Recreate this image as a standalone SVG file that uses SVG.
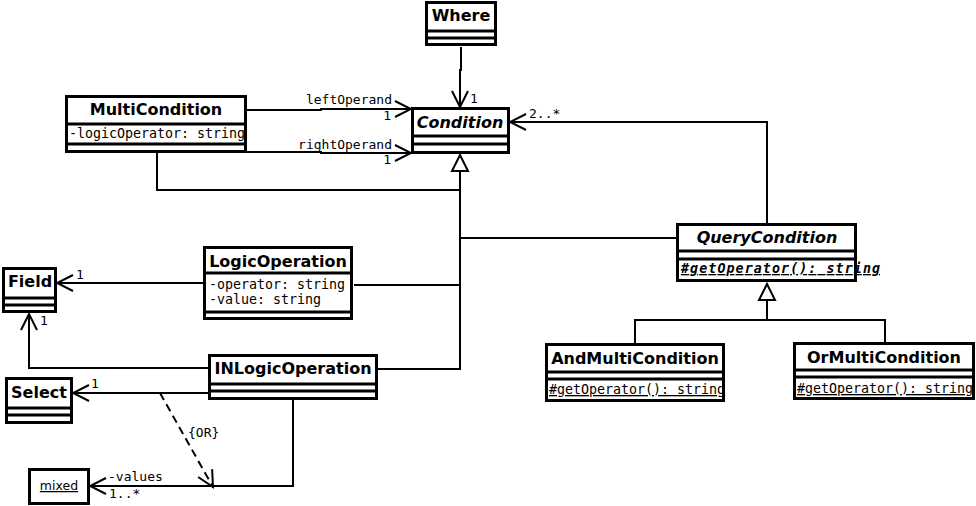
<svg xmlns="http://www.w3.org/2000/svg" width="976" height="506" viewBox="0 0 976 506">
<style>
.box{fill:#fff;stroke:#000;stroke-width:3}
.frame{fill:none;stroke:#000;stroke-width:3}
.sep{stroke:#000;stroke-width:3}
.conn{fill:none;stroke:#000;stroke-width:2}
.dash{fill:none;stroke:#000;stroke-width:2;stroke-dasharray:8,5}
.tri{fill:#fff;stroke:#000;stroke-width:2}
.name{font-family:"DejaVu Sans",sans-serif;font-weight:bold;font-size:16px;text-anchor:middle}
.abs{font-style:italic}
.attr{font-family:"DejaVu Sans Mono",monospace;font-size:13.3px}
.op{font-family:"DejaVu Sans Mono",monospace;font-size:13.3px;text-decoration:underline}
.lbl{font-family:"DejaVu Sans Mono",monospace;font-size:13px}
.obj{font-family:"DejaVu Sans",sans-serif;font-size:12.5px;text-anchor:middle;text-decoration:underline}
</style>
<defs>
<marker id="open" viewBox="-18 -10 20 20" refX="0" refY="0" markerWidth="20" markerHeight="20" markerUnits="userSpaceOnUse" orient="auto">
<path d="M-16,-8 L0,0 L-16,8" fill="none" stroke="#000" stroke-width="2"/>
</marker>
</defs>
<rect width="976" height="506" fill="#fff"/>

<g id="connectors">
<path class="conn" d="M461,47 V70 H460 V107" marker-end="url(#open)"/>
<text class="lbl" x="470" y="103">1</text>
<path class="conn" d="M247,110 H321 V109 H411" marker-end="url(#open)"/>
<text class="lbl" x="392" y="104" text-anchor="end">leftOperand</text>
<text class="lbl" x="391" y="120" text-anchor="end">1</text>
<path class="conn" d="M247,152 H321 V153 H411" marker-end="url(#open)"/>
<text class="lbl" x="392" y="149" text-anchor="end">rightOperand</text>
<text class="lbl" x="391" y="164" text-anchor="end">1</text>
<path class="conn" d="M767,223 V122 H510" marker-end="url(#open)"/>
<text class="lbl" x="529" y="118">2..*</text>
<polygon class="tri" points="460,155 452,171 468,171"/>
<path class="conn" d="M460,171 V369 H378"/>
<path class="conn" d="M157,153 V190 H460"/>
<path class="conn" d="M460,238 H676"/>
<path class="conn" d="M354,285 H460"/>
<path class="conn" d="M203,283 H57" marker-end="url(#open)"/>
<text class="lbl" x="76" y="279">1</text>
<path class="conn" d="M208,368 H29 V314" marker-end="url(#open)"/>
<text class="lbl" x="40" y="325">1</text>
<path class="conn" d="M208,393 H73" marker-end="url(#open)"/>
<text class="lbl" x="91" y="388">1</text>
<path class="conn" d="M293,400 V486 H90" marker-end="url(#open)"/>
<text class="lbl" x="108" y="481">-values</text>
<text class="lbl" x="109" y="498">1..*</text>
<path class="dash" d="M160,393 L213,487" marker-end="url(#open)"/>
<text class="lbl" x="188" y="437" font-size="12">{OR}</text>
<polygon class="tri" points="767,284 759,300 775,300"/>
<path class="conn" d="M767,300 V320"/>
<path class="conn" d="M635,344 V320 H885 V343"/>
</g>

<g id="Where">
<rect class="box" x="426.5" y="2.5" width="69" height="42"/>
<text class="name" x="461" y="21">Where</text>
<line class="sep" x1="426" y1="31" x2="496" y2="31"/>
<line class="sep" x1="426" y1="38" x2="496" y2="38"/>
</g>

<g id="Condition">
<rect class="box" x="412.5" y="108.5" width="96" height="44"/>
<text class="name abs" x="460" y="128">Condition</text>
<line class="sep" x1="412" y1="136" x2="509" y2="136"/>
<line class="sep" x1="412" y1="144" x2="509" y2="144"/>
</g>

<g id="MultiCondition">
<rect class="box" x="66.5" y="96.5" width="179" height="55"/>
<text class="name" x="156" y="115">MultiCondition</text>
<text class="attr" x="69" y="138">-logicOperator: string</text>
<line class="sep" x1="66" y1="124" x2="246" y2="124"/>
<line class="sep" x1="66" y1="144" x2="246" y2="144"/>
<rect class="frame" x="66.5" y="96.5" width="179" height="55"/>
</g>

<g id="QueryCondition">
<rect class="box" x="677.5" y="224.5" width="178" height="56"/>
<text class="name abs" x="767" y="243">QueryCondition</text>
<line class="sep" x1="677" y1="251" x2="856" y2="251"/>
<line class="sep" x1="677" y1="259" x2="856" y2="259"/>
<text class="op" x="681" y="273" font-weight="bold" font-style="italic" textLength="199" lengthAdjust="spacing">#getOperator(): string</text>
<rect class="frame" x="677.5" y="224.5" width="178" height="56"/>
</g>

<g id="AndMultiCondition">
<rect class="box" x="546.5" y="344.5" width="177" height="56"/>
<text class="name" x="635" y="364">AndMultiCondition</text>
<line class="sep" x1="546" y1="372" x2="724" y2="372"/>
<line class="sep" x1="546" y1="379" x2="724" y2="379"/>
<text class="op" x="549" y="394">#getOperator(): string</text>
<rect class="frame" x="546.5" y="344.5" width="177" height="56"/>
</g>

<g id="OrMultiCondition">
<rect class="box" x="794.5" y="343.5" width="179" height="55"/>
<text class="name" x="884" y="363">OrMultiCondition</text>
<line class="sep" x1="794" y1="370" x2="974" y2="370"/>
<line class="sep" x1="794" y1="377" x2="974" y2="377"/>
<text class="op" x="797" y="393">#getOperator(): string</text>
<rect class="frame" x="794.5" y="343.5" width="179" height="55"/>
</g>

<g id="LogicOperation">
<rect class="box" x="204.5" y="247.5" width="147" height="71"/>
<text class="name" x="278" y="267">LogicOperation</text>
<line class="sep" x1="204" y1="273" x2="352" y2="273"/>
<text class="attr" x="209" y="289">-operator: string</text>
<text class="attr" x="209" y="304">-value: string</text>
<line class="sep" x1="204" y1="312" x2="352" y2="312"/>
</g>

<g id="Field">
<rect class="box" x="3.5" y="268.5" width="52" height="43"/>
<text class="name" x="30" y="287">Field</text>
<line class="sep" x1="3" y1="298" x2="56" y2="298"/>
<line class="sep" x1="3" y1="305" x2="56" y2="305"/>
</g>

<g id="Select">
<rect class="box" x="6.5" y="378.5" width="65" height="44"/>
<text class="name" x="39" y="398">Select</text>
<line class="sep" x1="6" y1="408" x2="72" y2="408"/>
<line class="sep" x1="6" y1="415" x2="72" y2="415"/>
</g>

<g id="INLogicOperation">
<rect class="box" x="209.5" y="355.5" width="167" height="43"/>
<text class="name" x="293" y="374">INLogicOperation</text>
<line class="sep" x1="209" y1="384" x2="377" y2="384"/>
<line class="sep" x1="209" y1="391" x2="377" y2="391"/>
</g>

<g id="mixed">
<rect class="box" x="29.5" y="469.5" width="59" height="34"/>
<text class="obj" x="59" y="490">mixed</text>
</g>
</svg>
